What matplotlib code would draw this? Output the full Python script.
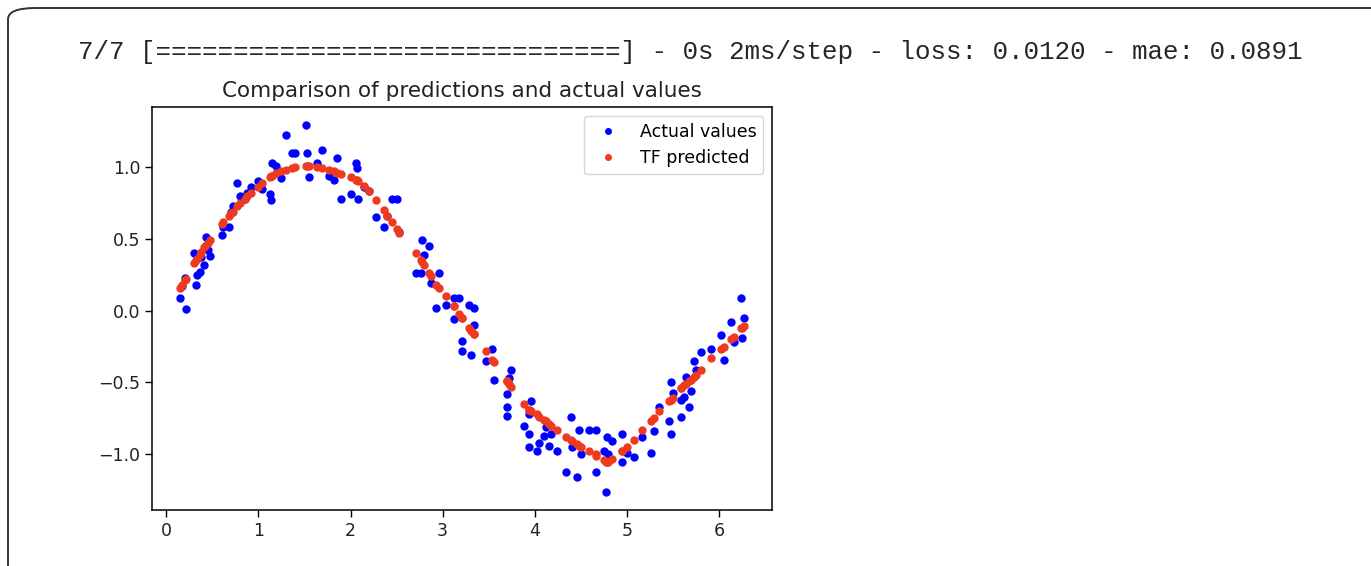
import matplotlib.pyplot as plt
from matplotlib.patches import FancyBboxPatch

# console line printed above the plot
log_line = "7/7 [==============================] - 0s 2ms/step - loss: 0.0120 - mae: 0.0891"

# test inputs, actual values and network predictions
x_test = [0.15, 0.17, 0.20, 0.21, 0.30, 0.32, 0.33, 0.36, 0.38, 0.41, 0.43, 0.45, 0.47,
          0.60, 0.62, 0.68, 0.70, 0.72, 0.77, 0.80, 0.85, 0.88, 0.92, 0.99, 1.04,
          1.12, 1.14, 1.15, 1.19, 1.25, 1.30, 1.36, 1.40, 1.52, 1.53, 1.55, 1.64,
          1.69, 1.77, 1.82, 1.85, 1.90, 2.00, 2.06, 2.07, 2.08, 2.15, 2.20, 2.28,
          2.36, 2.40, 2.45, 2.50, 2.53, 2.71, 2.77, 2.78, 2.80, 2.85, 2.87, 2.93,
          2.96, 3.04, 3.12, 3.12, 3.18, 3.21, 3.21, 3.29, 3.31, 3.34, 3.34, 3.47,
          3.54, 3.56, 3.70, 3.70, 3.70, 3.72, 3.74, 3.88, 3.94, 3.94, 3.94, 3.96,
          4.02, 4.05, 4.10, 4.12, 4.15, 4.18, 4.24, 4.34, 4.39, 4.40, 4.46, 4.48,
          4.50, 4.59, 4.66, 4.67, 4.75, 4.77, 4.78, 4.79, 4.84, 4.95, 4.95, 5.00,
          5.08, 5.16, 5.26, 5.29, 5.35, 5.46, 5.48, 5.48, 5.50, 5.59, 5.59, 5.62,
          5.64, 5.67, 5.70, 5.73, 5.75, 5.80, 5.91, 6.02, 6.05, 6.13, 6.16, 6.24,
          6.25, 6.27]
y_actual = [0.09, 0.17, 0.23, 0.01, 0.40, 0.18, 0.25, 0.27, 0.37, 0.32, 0.51, 0.42, 0.38,
            0.53, 0.58, 0.58, 0.69, 0.73, 0.89, 0.80, 0.78, 0.82, 0.86, 0.90, 0.85,
            0.81, 0.77, 1.03, 1.01, 0.92, 1.22, 1.10, 1.10, 1.29, 1.10, 0.93, 1.03,
            1.12, 0.94, 0.91, 1.06, 0.78, 0.81, 1.03, 0.99, 0.78, 0.86, 0.83, 0.65,
            0.58, 0.66, 0.78, 0.78, 0.55, 0.26, 0.26, 0.49, 0.39, 0.45, 0.19, 0.02,
            0.26, 0.04, 0.09, -0.06, 0.09, -0.21, -0.28, 0.04, -0.31, 0.02, -0.10, -0.35,
            -0.27, -0.48, -0.58, -0.67, -0.73, -0.47, -0.41, -0.80, -0.72, -0.86, -0.95, -0.63,
            -0.98, -0.92, -0.87, -0.81, -0.94, -0.86, -0.98, -1.12, -0.74, -0.95, -1.16, -0.83,
            -1.00, -0.83, -0.83, -1.12, -0.98, -1.26, -0.88, -1.00, -0.91, -0.86, -1.05, -0.99,
            -1.02, -0.88, -0.99, -0.84, -0.67, -0.77, -0.86, -0.50, -0.57, -0.62, -0.74, -0.60,
            -0.46, -0.67, -0.56, -0.35, -0.41, -0.29, -0.27, -0.17, -0.34, -0.08, -0.22, 0.09,
            -0.19, -0.05]
y_pred = [0.16, 0.18, 0.21, 0.22, 0.33, 0.35, 0.36, 0.39, 0.41, 0.44, 0.46, 0.47, 0.49,
          0.60, 0.62, 0.66, 0.68, 0.69, 0.73, 0.75, 0.78, 0.80, 0.82, 0.86, 0.89,
          0.93, 0.94, 0.94, 0.96, 0.97, 0.98, 0.99, 1.00, 1.01, 1.01, 1.01, 1.00,
          0.99, 0.98, 0.97, 0.96, 0.95, 0.93, 0.91, 0.91, 0.90, 0.87, 0.83, 0.77,
          0.70, 0.66, 0.62, 0.57, 0.54, 0.40, 0.35, 0.34, 0.32, 0.26, 0.24, 0.18,
          0.16, 0.10, 0.03, 0.03, -0.02, -0.05, -0.05, -0.12, -0.14, -0.16, -0.16, -0.28,
          -0.34, -0.36, -0.49, -0.49, -0.49, -0.51, -0.53, -0.65, -0.69, -0.69, -0.69, -0.70,
          -0.72, -0.74, -0.76, -0.77, -0.79, -0.80, -0.83, -0.88, -0.90, -0.91, -0.93, -0.94,
          -0.95, -0.98, -1.00, -1.01, -1.04, -1.05, -1.05, -1.05, -1.03, -0.98, -0.98, -0.95,
          -0.90, -0.83, -0.77, -0.75, -0.70, -0.63, -0.62, -0.62, -0.61, -0.54, -0.54, -0.52,
          -0.51, -0.49, -0.48, -0.46, -0.45, -0.41, -0.33, -0.27, -0.25, -0.20, -0.18, -0.12,
          -0.12, -0.11]

W, H = 1371, 566
fig = plt.figure(figsize=(W / 100, H / 100), dpi=100)

# rounded frame of the output cell
frame = FancyBboxPatch((8 / W, -0.2), 1.2, 1.2 - 8 / H,
                       boxstyle="round,pad=0,rounding_size=0.02",
                       transform=fig.transFigure, fill=False,
                       edgecolor='#333333', linewidth=1.4)
fig.patches.append(frame)

fig.text(78 / W, 1 - 52 / H, log_line, family='Liberation Mono', fontsize=18.6,
         va='center', ha='left', color='#262626')

ax = fig.add_axes([152 / W, 1 - 510 / H, (772 - 152) / W, (510 - 107) / H])
ax.plot(x_test, y_actual, '.', color='#0000ff', markersize=10, label='Actual values')
ax.plot(x_test, y_pred, '.', color='#ee3a1f', markersize=10, label='TF predicted')
ax.set_title('Comparison of predictions and actual values', fontsize=15.5, pad=7,
             color='#222222')
ax.tick_params(labelsize=12.5, length=5, width=1, labelcolor='#222222')
for s in ax.spines.values():
    s.set_linewidth(1.1)
ax.legend(fontsize=12.5, loc='upper right', markerscale=0.8)

fig.savefig('out.png', dpi=100)
